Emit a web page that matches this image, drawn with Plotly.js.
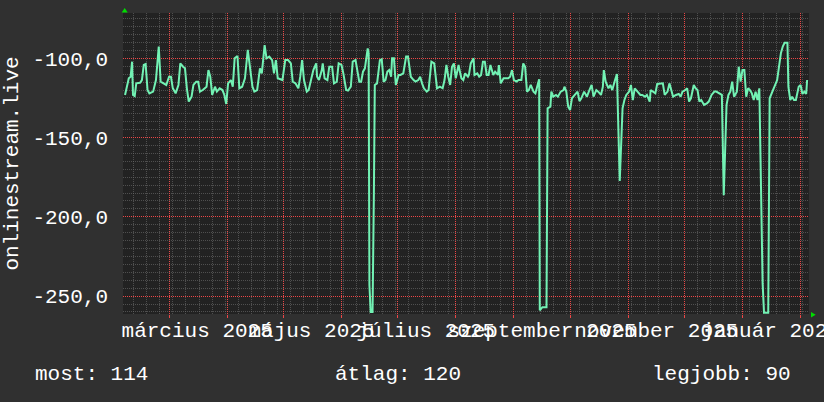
<!DOCTYPE html>
<html><head><meta charset="utf-8">
<script src="https://cdn.plot.ly/plotly-3.0.1.min.js"></script>
<style>html,body{margin:0;padding:0;background:#303030;}#chart{width:824px;height:402px;}</style>
</head><body><div id="chart"></div>
<script>
const dates = [
'2025-02-05 12:00','2025-02-06','2025-02-07 12:00','2025-02-08 12:00','2025-02-09 06:00','2025-02-09 18:00','2025-02-10 16:00','2025-02-11 12:00','2025-02-13 12:00','2025-02-14 12:00',
'2025-02-15 12:00','2025-02-16 12:00','2025-02-17 12:00','2025-02-18 12:00','2025-02-20 12:00','2025-02-22','2025-02-23 12:00','2025-02-24 12:00','2025-02-26','2025-02-27 12:00',
'2025-03-01','2025-03-02','2025-03-03','2025-03-04 12:00','2025-03-06','2025-03-07','2025-03-08 12:00','2025-03-09 12:00','2025-03-10 12:00','2025-03-11 12:00',
'2025-03-13','2025-03-14','2025-03-15 12:00','2025-03-16 12:00','2025-03-17 12:00','2025-03-19','2025-03-21','2025-03-22','2025-03-23','2025-03-24',
'2025-03-25 12:00','2025-03-26 12:00','2025-03-28','2025-03-29 12:00','2025-03-30 12:00','2025-03-31 12:00','2025-04-01 12:00','2025-04-03','2025-04-04','2025-04-05',
'2025-04-06 12:00','2025-04-07 12:00','2025-04-09','2025-04-10 12:00','2025-04-12','2025-04-13','2025-04-14 12:00','2025-04-15 12:00','2025-04-17','2025-04-18 12:00',
'2025-04-19 12:00','2025-04-21','2025-04-22','2025-04-23 12:00','2025-04-25','2025-04-26','2025-04-27','2025-04-28','2025-04-29','2025-04-30 12:00',
'2025-05-02','2025-05-03 12:00','2025-05-05','2025-05-06','2025-05-07 12:00','2025-05-09','2025-05-10','2025-05-11','2025-05-12','2025-05-13 12:00',
'2025-05-14 12:00','2025-05-16','2025-05-17','2025-05-18 12:00','2025-05-19','2025-05-20','2025-05-21 12:00','2025-05-22','2025-05-23','2025-05-24 12:00',
'2025-05-25 12:00','2025-05-27','2025-05-28','2025-05-29 12:00','2025-05-30 12:00','2025-06-01','2025-06-02','2025-06-03 12:00','2025-06-04 12:00','2025-06-06',
'2025-06-07','2025-06-08 12:00','2025-06-09 12:00','2025-06-10 12:00','2025-06-11 12:00','2025-06-12 12:00','2025-06-13 12:00','2025-06-14 12:00','2025-06-15','2025-06-15 12:00',
'2025-06-15 22:00','2025-06-16 14:00','2025-06-17 14:00','2025-06-18 07:00','2025-06-18 19:00','2025-06-20','2025-06-21 12:00','2025-06-22 12:00','2025-06-23 12:00','2025-06-24 12:00',
'2025-06-25 12:00','2025-06-26 12:00','2025-06-27 12:00','2025-06-28','2025-06-29','2025-06-30','2025-07-01 12:00','2025-07-02 12:00','2025-07-04','2025-07-05 12:00',
'2025-07-06 12:00','2025-07-07','2025-07-08','2025-07-09 12:00','2025-07-10 12:00','2025-07-12','2025-07-13','2025-07-14','2025-07-15','2025-07-16 12:00',
'2025-07-17 12:00','2025-07-18','2025-07-19','2025-07-20 12:00','2025-07-21 12:00','2025-07-22','2025-07-23 12:00','2025-07-25','2025-07-26','2025-07-27',
'2025-07-28','2025-07-29','2025-07-30','2025-07-31','2025-08-01','2025-08-02 12:00','2025-08-03','2025-08-04','2025-08-05','2025-08-06',
'2025-08-07 12:00','2025-08-08','2025-08-09','2025-08-10 12:00','2025-08-11','2025-08-12 12:00','2025-08-13 12:00','2025-08-14 12:00','2025-08-15 12:00','2025-08-16 12:00',
'2025-08-17 12:00','2025-08-18 12:00','2025-08-19 12:00','2025-08-21','2025-08-22','2025-08-23 12:00','2025-08-24','2025-08-25','2025-08-26 12:00','2025-08-27 12:00',
'2025-08-29','2025-08-30','2025-08-31','2025-09-01','2025-09-02 12:00','2025-09-03 12:00','2025-09-05','2025-09-06','2025-09-07','2025-09-08',
'2025-09-09','2025-09-10','2025-09-11 12:00','2025-09-12 12:00','2025-09-13 12:00','2025-09-14 12:00','2025-09-14 20:00','2025-09-16 05:00','2025-09-18 10:00','2025-09-19',
'2025-09-20 12:00','2025-09-21','2025-09-22','2025-09-23 12:00','2025-09-24 12:00','2025-09-26','2025-09-27 12:00','2025-09-28','2025-09-29','2025-09-30',
'2025-10-01','2025-10-02','2025-10-03 12:00','2025-10-05','2025-10-06','2025-10-07','2025-10-08 12:00','2025-10-10','2025-10-11','2025-10-12 12:00',
'2025-10-13 12:00','2025-10-15','2025-10-16','2025-10-17 12:00','2025-10-18 12:00','2025-10-19','2025-10-20','2025-10-21 12:00','2025-10-22 12:00','2025-10-23 12:00',
'2025-10-25','2025-10-26','2025-10-27 12:00','2025-10-29','2025-10-30','2025-10-31','2025-11-01 12:00','2025-11-02 12:00','2025-11-03 12:00','2025-11-04 12:00',
'2025-11-06','2025-11-07 12:00','2025-11-08 12:00','2025-11-10','2025-11-11','2025-11-12 12:00','2025-11-13','2025-11-14 12:00','2025-11-15 12:00','2025-11-16 12:00',
'2025-11-18','2025-11-19 12:00','2025-11-20 12:00','2025-11-22','2025-11-23','2025-11-24','2025-11-25','2025-11-26 12:00','2025-11-28','2025-11-29',
'2025-11-30','2025-12-01 12:00','2025-12-02 12:00','2025-12-03 12:00','2025-12-04 12:00','2025-12-06','2025-12-07','2025-12-08','2025-12-09','2025-12-10',
'2025-12-11 12:00','2025-12-13','2025-12-14','2025-12-15 12:00','2025-12-17','2025-12-18','2025-12-19 12:00','2025-12-21','2025-12-22','2025-12-23 12:00',
'2025-12-24 12:00','2025-12-25 12:00','2025-12-26 12:00','2025-12-27 12:00','2025-12-29','2025-12-30','2025-12-31','2026-01-01','2026-01-02','2026-01-03',
'2026-01-04','2026-01-05','2026-01-06','2026-01-07','2026-01-08','2026-01-09','2026-01-10','2026-01-10 12:00','2026-01-11 18:00','2026-01-12 12:00',
'2026-01-14 18:00','2026-01-15 12:00','2026-01-17','2026-01-18','2026-01-19 12:00','2026-01-20 12:00','2026-01-21 12:00','2026-01-22 12:00','2026-01-23 12:00','2026-01-25',
'2026-01-25 12:00','2026-01-26 12:00','2026-01-27 12:00','2026-01-28 12:00','2026-01-29 12:00','2026-01-31','2026-02-01','2026-02-02','2026-02-03','2026-02-04',
'2026-02-04 12:00'
];
const values = [
-123.1,-120.0,-112.6,-111.6,-102.1,-123.1,-123.8,-115.8,-115.4,-113.7,
-104.2,-103.6,-120.0,-122.1,-121.0,-113.7,-92.6,-114.7,-115.8,-116.8,
-111.6,-111.6,-118.9,-122.1,-116.8,-103.2,-105.3,-106.3,-118.9,-127.3,
-124.2,-116.8,-114.7,-114.7,-121.0,-120.0,-117.9,-107.4,-111.6,-123.1,
-117.9,-121.0,-118.9,-120.0,-123.1,-128.8,-115.8,-113.7,-117.9,-100.0,
-98.5,-118.9,-117.9,-112.6,-94.7,-105.3,-117.9,-121.0,-120.0,-106.3,
-109.5,-91.6,-100.0,-98.9,-101.1,-109.5,-101.1,-112.6,-113.2,-113.7,
-101.1,-101.1,-103.2,-114.7,-115.8,-118.9,-111.6,-101.1,-113.7,-121.0,
-120.0,-112.6,-107.4,-103.2,-111.6,-113.7,-107.4,-103.2,-112.6,-113.7,
-105.3,-105.3,-115.8,-114.7,-103.2,-104.2,-109.5,-120.0,-120.4,-117.9,
-102.1,-101.1,-109.5,-114.7,-114.7,-108.4,-106.3,-95.8,-93.7,-96.8,
-243.0,-260.0,-260.0,-186.4,-116.8,-115.8,-101.1,-100.6,-114.7,-113.7,
-108.4,-107.4,-111.6,-100.0,-100.0,-116.8,-110.5,-110.5,-109.5,-98.9,
-98.9,-103.2,-111.6,-113.7,-114.7,-113.7,-111.6,-115.8,-118.9,-121.0,
-120.0,-113.7,-102.1,-103.2,-112.6,-118.9,-117.9,-118.9,-113.7,-104.2,
-111.6,-116.8,-105.3,-103.2,-112.6,-104.2,-107.4,-112.6,-113.7,-109.5,
-111.6,-110.5,-103.2,-100.0,-110.5,-109.5,-111.6,-110.5,-102.1,-102.1,
-110.5,-110.5,-104.2,-110.5,-108.4,-110.5,-104.2,-115.8,-112.6,-112.6,
-112.6,-111.6,-107.4,-113.7,-114.7,-113.7,-113.7,-103.2,-105.3,-121.0,
-120.0,-116.8,-121.0,-122.1,-116.8,-113.2,-259.0,-257.0,-257.0,-131.5,
-130.5,-121.0,-124.2,-123.1,-124.2,-121.0,-120.0,-117.9,-121.0,-130.5,
-132.6,-125.2,-123.1,-121.0,-127.0,-125.2,-121.0,-124.2,-121.0,-116.8,
-124.2,-120.0,-121.0,-123.1,-117.9,-107.4,-114.7,-118.9,-116.8,-120.0,
-113.7,-109.9,-177.4,-131.5,-126.3,-123.1,-121.0,-116.8,-126.3,-118.9,
-121.0,-123.1,-123.1,-124.2,-123.1,-127.3,-120.0,-121.0,-122.1,-116.2,
-115.8,-115.8,-123.1,-121.0,-115.8,-121.0,-124.2,-123.1,-122.5,-124.2,
-121.0,-120.0,-118.9,-127.3,-125.2,-116.8,-118.9,-120.0,-127.3,-126.3,
-129.4,-128.4,-127.3,-123.1,-121.0,-121.0,-122.1,-123.1,-186.4,-129.4,
-123.1,-121.0,-114.7,-124.2,-121.0,-105.3,-114.7,-107.4,-107.4,-124.2,
-118.9,-120.0,-122.1,-126.3,-121.0,-126.3,-118.9,-149.4,-242.0,-260.5,
-260.5,-125.2,-121.0,-117.9,-113.7,-105.3,-96.8,-92.6,-90.1,-90.1,
-117.9,-126.3,-124.2,-126.3,-126.3,-117.9,-116.8,-122.5,-121.0,-122.5,
-113.7
];
const xRange = ['2025-02-04 10:00', '2026-02-05 12:00'];
const yRange = [-261.3, -71.4];
const labelDates = ['2025-03-16','2025-05-16','2025-07-16','2025-09-16','2025-11-16','2026-01-16'];
const labelTexts = ['március 2025','május 2025','július 2025','szeptember 2025','november 2025','január 2026'];
const monthStarts = ['2025-03-01','2025-04-01','2025-05-01','2025-06-01','2025-07-01','2025-08-01','2025-09-01','2025-10-01','2025-11-01','2025-12-01','2026-01-01','2026-02-01'];
const yTickVals = [-250, -200, -150, -100];
const yTickText = ['-250,0', '-200,0', '-150,0', '-100,0'];
const yMinorVals = [-260,-255,-245,-240,-235,-230,-225,-220,-215,-210,-205,-195,-190,-185,-180,-175,-170,-165,-160,-155,-145,-140,-135,-130,-125,-120,-115,-110,-105,-95,-90,-85,-80,-75];
const yTitle = 'onlinestream.live';
const legendLabels = ['most: 114', 'átlag: 120', 'legjobb: 90'];

const FONT = 'Liberation Mono, DejaVu Sans Mono, monospace';
const GREY = 'rgba(110,110,110,0.6)';
const RED = 'rgb(235,70,70)';
const DAY = 86400000;

const trace = {
  type: 'scatter', mode: 'lines', x: dates, y: values,
  line: {color: '#72f2b4', width: 2}, hoverinfo: 'skip', xaxis: 'x', yaxis: 'y'
};
const gridTrace = {
  type: 'scatter', mode: 'lines', x: [], y: [], xaxis: 'x2', yaxis: 'y', hoverinfo: 'skip', showlegend: false
};

const legX = [-0.1312, 0.3061, 0.7682];
const layout = {
  width: 824, height: 402,
  paper_bgcolor: '#303030', plot_bgcolor: '#222222',
  margin: {l: 123, r: 15, t: 13, b: 88, pad: 0},
  separators: ',.',
  showlegend: false,
  font: {family: FONT, size: 21, color: '#ffffff'},
  xaxis: {
    type: 'date', range: xRange, tickmode: 'array', tickvals: labelDates, ticktext: labelTexts,
    tickangle: 0, ticks: '', showgrid: false, zeroline: false, showline: false,
    ticklabeloverflow: 'allow', ticklabelstandoff: 1,
    tickfont: {family: FONT, size: 21, color: '#ffffff'},
    minor: {tickmode: 'linear', tick0: '2025-02-10', dtick: 7 * DAY, showgrid: true,
            gridcolor: GREY, gridwidth: 1, griddash: '1px,1px'}
  },
  xaxis2: {
    type: 'date', range: xRange, overlaying: 'x', anchor: 'y', side: 'bottom',
    tickmode: 'array', tickvals: monthStarts, showticklabels: false,
    ticks: 'outside', ticklen: 3, tickcolor: RED, tickwidth: 1,
    showgrid: true, gridcolor: RED, gridwidth: 1, griddash: '1px,1px',
    zeroline: false, showline: false
  },
  yaxis: {
    range: yRange, tickmode: 'array', tickvals: yTickVals, ticktext: yTickText,
    ticks: '', showgrid: true, gridcolor: RED, gridwidth: 1, griddash: '1px,1px',
    zeroline: false, showline: false, ticklabelstandoff: 14,
    tickfont: {family: FONT, size: 21, color: '#ffffff'},
    minor: {tickmode: 'array', tickvals: yMinorVals, showgrid: true,
            gridcolor: GREY, gridwidth: 1, griddash: '1px,1px'},
    title: {text: yTitle, font: {family: FONT, size: 21, color: '#ffffff'}, standoff: 8}
  },
  shapes: [
    {type: 'path', xref: 'paper', yref: 'paper', path: 'M 0.00248 1.01661 L -0.0019 1.00166 L 0.00685 1.00166 Z',
     fillcolor: '#00dd00', line: {width: 0}},
    {type: 'path', xref: 'paper', yref: 'paper', path: 'M 1.00977 -0.00266 L 1.00292 0.00664 L 1.00292 -0.01163 Z',
     fillcolor: '#00dd00', line: {width: 0}}
  ],
  annotations: legendLabels.map((t, i) => ({
    text: t, xref: 'paper', yref: 'paper', x: legX[i], y: -0.1995,
    xanchor: 'left', yanchor: 'middle', showarrow: false,
    font: {family: FONT, size: 21, color: '#ffffff'}
  }))
};

Plotly.newPlot('chart', [gridTrace, trace], layout, {staticPlot: true, displayModeBar: false});
</script>
</body></html>
